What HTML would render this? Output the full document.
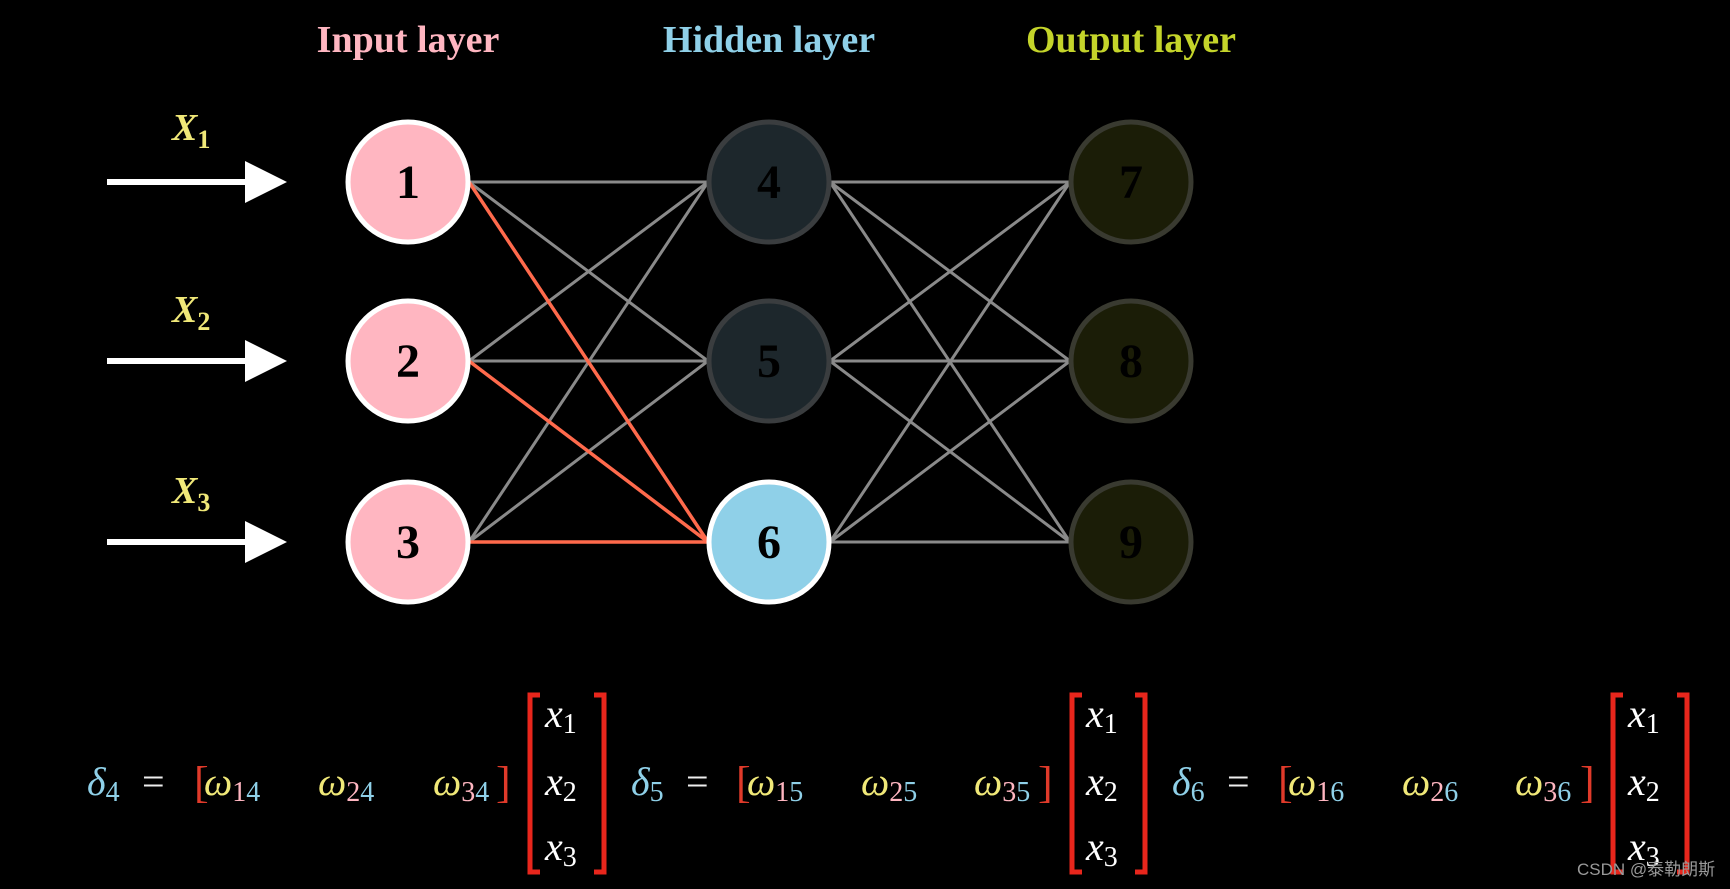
<!DOCTYPE html>
<html><head><meta charset="utf-8"><style>
html,body{margin:0;padding:0;background:#000;width:1730px;height:889px;overflow:hidden}
svg{display:block}
.t{font-family:"Liberation Serif",serif;font-weight:bold}
.m{font-family:"Liberation Serif",serif;font-style:italic}
.s{font-family:"Liberation Serif",serif;font-style:normal}
</style></head><body>
<svg width="1730" height="889" viewBox="0 0 1730 889" xmlns="http://www.w3.org/2000/svg">
<rect width="1730" height="889" fill="#000"/>
<g class="t" font-size="38" text-anchor="middle">
<text x="408" y="52" fill="#ffb6c1">Input layer</text>
<text x="769" y="52" fill="#8fd0e8">Hidden layer</text>
<text x="1131" y="52" fill="#c4d42a">Output layer</text>
</g>
<g stroke="#fff" stroke-width="6" fill="#fff">
<line x1="107" y1="182" x2="250" y2="182"/><polygon points="245,161 287,182 245,203" stroke="none"/>
<line x1="107" y1="361" x2="250" y2="361"/><polygon points="245,340 287,361 245,382" stroke="none"/>
<line x1="107" y1="542" x2="250" y2="542"/><polygon points="245,521 287,542 245,563" stroke="none"/>
</g>
<g class="m" font-size="38" fill="#f0e878" font-weight="bold">
<text x="172" y="140">X<tspan font-size="26" dy="8" class="s">1</tspan></text>
<text x="172" y="322">X<tspan font-size="26" dy="8" class="s">2</tspan></text>
<text x="172" y="503">X<tspan font-size="26" dy="8" class="s">3</tspan></text>
</g>
<g stroke="#8a8a8a" stroke-width="3">
<line x1="469" y1="182" x2="708" y2="182"/><line x1="469" y1="182" x2="708" y2="361"/>
<line x1="469" y1="361" x2="708" y2="182"/><line x1="469" y1="361" x2="708" y2="361"/>
<line x1="469" y1="542" x2="708" y2="182"/><line x1="469" y1="542" x2="708" y2="361"/>
<line x1="830" y1="182" x2="1070" y2="182"/><line x1="830" y1="182" x2="1070" y2="361"/><line x1="830" y1="182" x2="1070" y2="542"/>
<line x1="830" y1="361" x2="1070" y2="182"/><line x1="830" y1="361" x2="1070" y2="361"/><line x1="830" y1="361" x2="1070" y2="542"/>
<line x1="830" y1="542" x2="1070" y2="182"/><line x1="830" y1="542" x2="1070" y2="361"/><line x1="830" y1="542" x2="1070" y2="542"/>
</g>
<g stroke="#ff6a4c" stroke-width="3.5">
<line x1="469" y1="182" x2="708" y2="542"/><line x1="469" y1="361" x2="708" y2="542"/><line x1="469" y1="542" x2="708" y2="542"/>
</g>
<g stroke-width="5">
<circle cx="408" cy="182" r="60" fill="#ffb6c1" stroke="#fff"/>
<circle cx="408" cy="361" r="60" fill="#ffb6c1" stroke="#fff"/>
<circle cx="408" cy="542" r="60" fill="#ffb6c1" stroke="#fff"/>
<circle cx="769" cy="182" r="60" fill="#1d272c" stroke="#3a3d3f"/>
<circle cx="769" cy="361" r="60" fill="#1d272c" stroke="#3a3d3f"/>
<circle cx="769" cy="542" r="60" fill="#8fd0e8" stroke="#fff"/>
<circle cx="1131" cy="182" r="60" fill="#1b1d07" stroke="#393a30"/>
<circle cx="1131" cy="361" r="60" fill="#1b1d07" stroke="#393a30"/>
<circle cx="1131" cy="542" r="60" fill="#1b1d07" stroke="#393a30"/>
</g>
<g class="t" font-size="48" fill="#000" text-anchor="middle">
<text x="408" y="198">1</text><text x="408" y="377">2</text><text x="408" y="558">3</text>
<text x="769" y="198">4</text><text x="769" y="377">5</text><text x="769" y="558">6</text>
<text x="1131" y="198">7</text><text x="1131" y="377">8</text><text x="1131" y="558">9</text>
</g>
<g font-size="40">
<g class="m">
<text x="87" y="795" fill="#8fd0e8">δ<tspan class="s" font-size="28" dy="6">4</tspan></text>
<text x="631" y="795" fill="#8fd0e8">δ<tspan class="s" font-size="28" dy="6">5</tspan></text>
<text x="1172" y="795" fill="#8fd0e8">δ<tspan class="s" font-size="28" dy="6">6</tspan></text>
</g>
<g class="s" fill="#eee"><text x="142" y="795">=</text><text x="686" y="795">=</text><text x="1227" y="795">=</text></g>
<g class="s" fill="#e03a2a" font-size="44">
<text x="194" y="797">[</text><text x="496" y="797">]</text>
<text x="736" y="797">[</text><text x="1038" y="797">]</text>
<text x="1278" y="797">[</text><text x="1580" y="797">]</text>
</g>
<g class="m" fill="#f0e878">
<text x="204" y="795">ω<tspan class="s" font-size="28" dy="6" fill="#ffb6c1">1</tspan><tspan class="s" font-size="28" fill="#8fd0e8">4</tspan></text>
<text x="318" y="795">ω<tspan class="s" font-size="28" dy="6" fill="#ffb6c1">2</tspan><tspan class="s" font-size="28" fill="#8fd0e8">4</tspan></text>
<text x="433" y="795">ω<tspan class="s" font-size="28" dy="6" fill="#ffb6c1">3</tspan><tspan class="s" font-size="28" fill="#8fd0e8">4</tspan></text>
<text x="747" y="795">ω<tspan class="s" font-size="28" dy="6" fill="#ffb6c1">1</tspan><tspan class="s" font-size="28" fill="#8fd0e8">5</tspan></text>
<text x="861" y="795">ω<tspan class="s" font-size="28" dy="6" fill="#ffb6c1">2</tspan><tspan class="s" font-size="28" fill="#8fd0e8">5</tspan></text>
<text x="974" y="795">ω<tspan class="s" font-size="28" dy="6" fill="#ffb6c1">3</tspan><tspan class="s" font-size="28" fill="#8fd0e8">5</tspan></text>
<text x="1288" y="795">ω<tspan class="s" font-size="28" dy="6" fill="#ffb6c1">1</tspan><tspan class="s" font-size="28" fill="#8fd0e8">6</tspan></text>
<text x="1402" y="795">ω<tspan class="s" font-size="28" dy="6" fill="#ffb6c1">2</tspan><tspan class="s" font-size="28" fill="#8fd0e8">6</tspan></text>
<text x="1515" y="795">ω<tspan class="s" font-size="28" dy="6" fill="#ffb6c1">3</tspan><tspan class="s" font-size="28" fill="#8fd0e8">6</tspan></text>
</g>
<g fill="none" stroke="#e8261c" stroke-width="5">
<polyline points="540,695 530,695 530,872 540,872"/><polyline points="594,695 604,695 604,872 594,872"/>
<polyline points="1082,695 1072,695 1072,872 1082,872"/><polyline points="1135,695 1145,695 1145,872 1135,872"/>
<polyline points="1623,695 1613,695 1613,872 1623,872"/><polyline points="1677,695 1687,695 1687,872 1677,872"/>
</g>
<g class="m" fill="#fff">
<text x="545" y="727">x<tspan class="s" font-size="28" dy="6">1</tspan></text>
<text x="545" y="795">x<tspan class="s" font-size="28" dy="6">2</tspan></text>
<text x="545" y="860">x<tspan class="s" font-size="28" dy="6">3</tspan></text>
<text x="1086" y="727">x<tspan class="s" font-size="28" dy="6">1</tspan></text>
<text x="1086" y="795">x<tspan class="s" font-size="28" dy="6">2</tspan></text>
<text x="1086" y="860">x<tspan class="s" font-size="28" dy="6">3</tspan></text>
<text x="1628" y="727">x<tspan class="s" font-size="28" dy="6">1</tspan></text>
<text x="1628" y="795">x<tspan class="s" font-size="28" dy="6">2</tspan></text>
<text x="1628" y="860">x<tspan class="s" font-size="28" dy="6">3</tspan></text>
</g>
</g>
<text x="1577" y="875" font-family="'Liberation Sans','Noto Sans CJK SC',sans-serif" font-size="17" fill="#9a9a9a">CSDN @泰勒朗斯</text>
</svg>
</body></html>
